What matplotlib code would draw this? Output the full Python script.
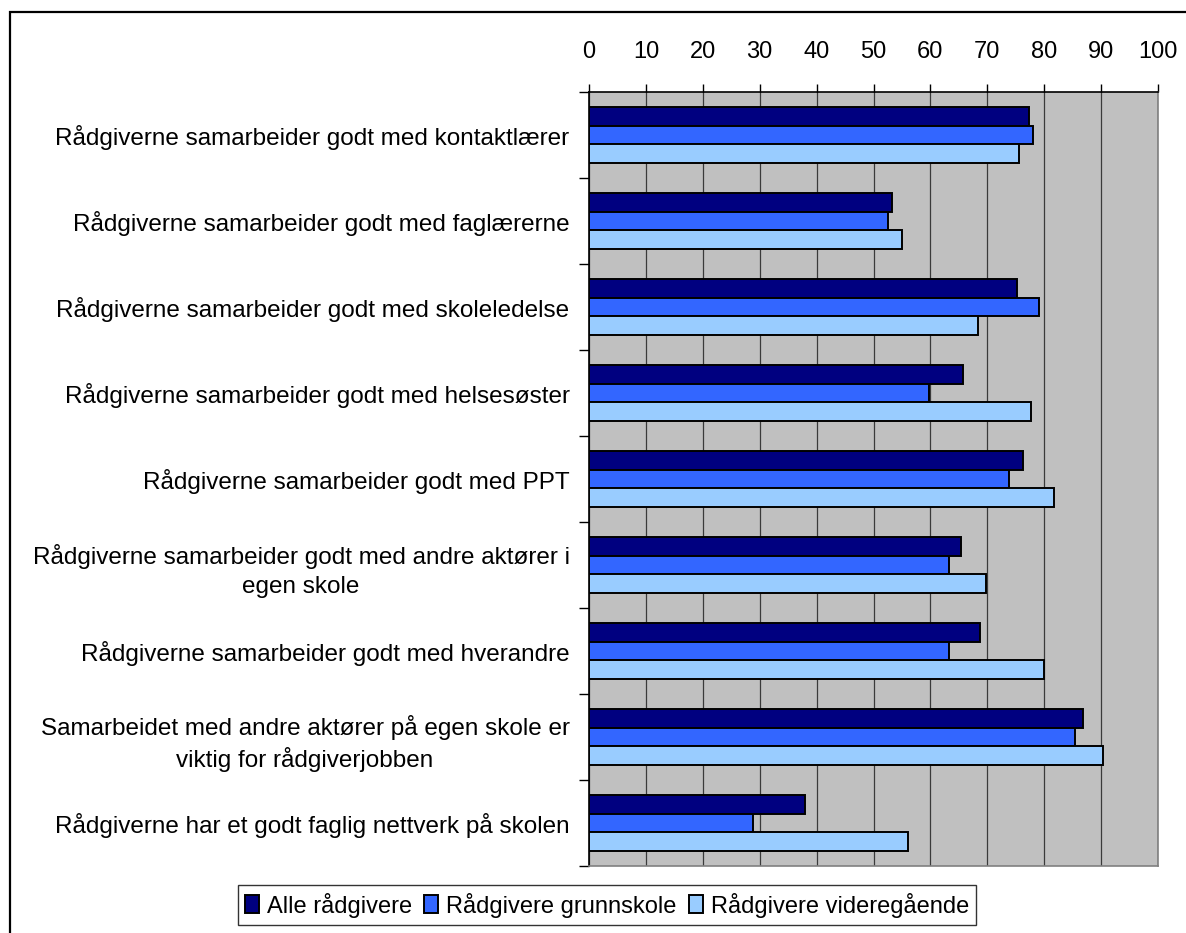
import numpy as np
import matplotlib as mpl
mpl.use('Agg')
import matplotlib.pyplot as plt
from matplotlib.patches import Rectangle

plt.rcParams['font.family'] = ['Liberation Sans', 'DejaVu Sans']

categories = [
    'Rådgiverne samarbeider godt med kontaktlærer',
    'Rådgiverne samarbeider godt med faglærerne',
    'Rådgiverne samarbeider godt med skoleledelse',
    'Rådgiverne samarbeider godt med helsesøster',
    'Rådgiverne samarbeider godt med PPT',
    'Rådgiverne samarbeider godt med andre aktører i\negen skole',
    'Rådgiverne samarbeider godt med hverandre',
    'Samarbeidet med andre aktører på egen skole er\nviktig for rådgiverjobben',
    'Rådgiverne har et godt faglig nettverk på skolen',
]
series_names = ['Alle rådgivere', 'Rådgivere grunnskole', 'Rådgivere videregående']
alle = [77.3, 53.3, 75.3, 65.7, 76.3, 65.3, 68.8, 86.9, 38.0]
grunnskole = [78.0, 52.6, 79.0, 59.8, 73.9, 63.2, 63.2, 85.5, 28.8]
videregaende = [75.6, 55.0, 68.4, 77.7, 81.8, 69.7, 80.0, 90.3, 56.1]
xticks = list(range(0, 101, 10))

colors = ['#000080', '#3366ff', '#99ccff']

fig = plt.figure(figsize=(11.86, 9.33), dpi=100)
# outer chart border
fig.patches.append(Rectangle((10 / 1186, -0.01), 1.2, 1 - 12 / 933 + 0.01,
                             transform=fig.transFigure, fill=False,
                             edgecolor='black', linewidth=1.6))

ax = fig.add_axes([589 / 1186, 1 - 866 / 933, (1158 - 589) / 1186, (866 - 92) / 933])
ax.set_facecolor('#c0c0c0')

n = len(categories)
bar_h = 0.22
pos = np.arange(n)
for i, (vals, c, name) in enumerate(zip([alle, grunnskole, videregaende], colors, series_names)):
    ax.barh(pos + (i - 1) * bar_h, vals, height=bar_h, color=c, edgecolor='black',
            linewidth=1.4, label=name, zorder=3)

ax.set_xlim(0, 100)
ax.set_ylim(n - 0.5, -0.5)
ax.set_xticks(xticks)
ax.xaxis.tick_top()
ax.tick_params(axis='x', which='major', labelsize=17, length=6, width=1, direction='out', pad=15)
ax.grid(axis='x', color='#3a3a3a', linewidth=0.9, zorder=1)

ax.set_yticks(pos)
ax.set_yticklabels(categories, fontsize=17.5, multialignment='center', linespacing=1.4)
ax.tick_params(axis='y', which='major', length=0, pad=14)
ax.set_yticks(np.arange(n + 1) - 0.5, minor=True)
ax.tick_params(axis='y', which='minor', length=7, width=1, direction='out')

ax.spines['top'].set_color('black')
ax.spines['left'].set_color('black')
ax.spines['right'].set_color('#808080')
ax.spines['bottom'].set_color('#808080')
for s in ax.spines.values():
    s.set_linewidth(1.2)

leg = fig.legend(loc='center', bbox_to_anchor=(607 / 1186, 1 - 905 / 933), ncol=3,
                 fontsize=17, frameon=True, fancybox=False, handlelength=0.6,
                 handleheight=0.8, handletextpad=0.35, columnspacing=0.5,
                 borderpad=0.3, edgecolor='black')
leg.get_frame().set_linewidth(1.0)

plt.savefig('out.png', dpi=100)
